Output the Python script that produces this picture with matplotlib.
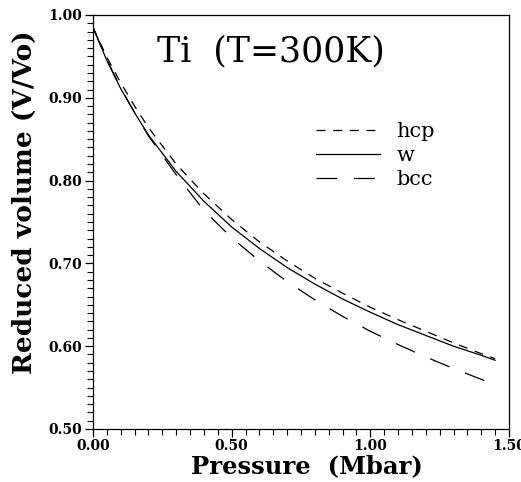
import numpy as np
import matplotlib
matplotlib.use("Agg")
import matplotlib.pyplot as plt
from matplotlib.ticker import MultipleLocator, FormatStrFormatter

# pressure (Mbar) and reduced volume V/Vo
pressure = [0.0, 0.05, 0.1, 0.15, 0.2, 0.3, 0.4, 0.5, 0.6, 0.7, 0.8, 0.9,
            1.0, 1.1, 1.2, 1.3, 1.4, 1.45]
v_hcp = [0.985, 0.949, 0.918, 0.890, 0.864, 0.820, 0.784, 0.753, 0.726, 0.703,
         0.682, 0.664, 0.647, 0.632, 0.618, 0.604, 0.591, 0.585]
v_w = [0.985, 0.945, 0.911, 0.882, 0.855, 0.811, 0.775, 0.744, 0.718, 0.695,
       0.675, 0.657, 0.641, 0.626, 0.613, 0.600, 0.589, 0.583]
v_bcc = [0.985, 0.946, 0.912, 0.882, 0.854, 0.807, 0.764, 0.731, 0.703, 0.678,
         0.656, 0.636, 0.618, 0.602, 0.587, 0.573, 0.560, 0.553]
labels = ["hcp", "w", "bcc"]

plt.rcParams['font.family'] = ['DejaVu Serif']
plt.rcParams['lines.scale_dashes'] = False

fig = plt.figure(figsize=(5.21, 4.82), dpi=100)
ax = fig.add_axes([93/521, 1-429/482, (509-93)/521, (429-15)/482])

ax.plot(pressure, v_hcp, color="black", lw=0.9, linestyle=(0, (6.5, 5.5)), label=labels[0])
ax.plot(pressure, v_w, color="black", lw=0.9, linestyle="-", label=labels[1])
ax.plot(pressure, v_bcc, color="black", lw=0.9, linestyle=(0, (15, 12)), label=labels[2])

ax.set_xlim(0, 1.5)
ax.set_ylim(0.5, 1.0)
ax.xaxis.set_major_locator(MultipleLocator(0.5))
ax.xaxis.set_minor_locator(MultipleLocator(0.05))
ax.yaxis.set_major_locator(MultipleLocator(0.1))
ax.yaxis.set_minor_locator(MultipleLocator(0.01))
ax.xaxis.set_major_formatter(FormatStrFormatter("%.2f"))
ax.yaxis.set_major_formatter(FormatStrFormatter("%.2f"))
ax.tick_params(which="major", direction="out", length=6, width=0.9,
               labelsize=10, pad=1.5, top=False, right=False)
ax.tick_params(which="minor", direction="out", length=4.5, width=0.8,
               top=False, right=False)
for lab in ax.get_xticklabels() + ax.get_yticklabels():
    lab.set_fontweight("bold")
for sp in ax.spines.values():
    sp.set_linewidth(0.9)

ax.set_xlabel("Pressure  (Mbar)", fontsize=17.5, fontweight="bold")
ax.xaxis.set_label_coords(0.513, -0.062)
ax.set_ylabel("Reduced volume (V/Vo)", fontsize=19, fontweight="bold")
ax.yaxis.set_label_coords(-0.135, 0.549)

ax.text(0.155, 0.912, "Ti  (T=300K)", transform=ax.transAxes, fontsize=25,
        ha="left", va="center")

ax.legend(loc="upper left", bbox_to_anchor=(0.49, 0.787), frameon=False,
          handlelength=3.1, handletextpad=0.77, labelspacing=0.25,
          prop={"size": 15})

fig.savefig("out.png", dpi=100)
